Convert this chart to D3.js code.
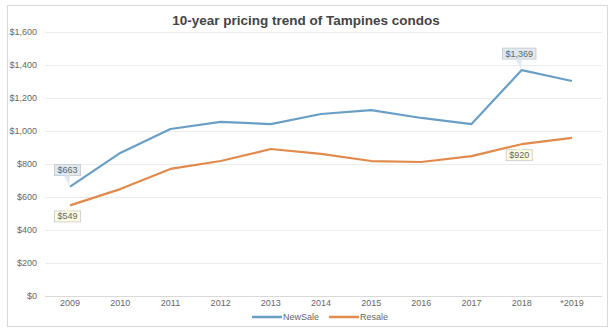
<!DOCTYPE html>
<html>
<head>
<meta charset="utf-8">
<script src="https://cdn.jsdelivr.net/npm/d3@7/dist/d3.min.js"></script>
<style>
  body { margin: 0; background: #fff; }
  svg { display: block; font-family: "Liberation Sans", Arial, sans-serif; }
</style>
</head>
<body>
<svg id="chart" width="614" height="333"></svg>
<script>
// Tampines condo prices per sq ft, 2009 – 2019
const years = ["2009", "2010", "2011", "2012", "2013", "2014", "2015", "2016", "2017", "2018", "*2019"];
const newSale = [663, 867, 1012, 1055, 1042, 1103, 1127, 1079, 1042, 1369, 1303];
const resale = [549, 648, 770, 818, 891, 861, 818, 812, 848, 920, 958];
const yTicks = [0, 200, 400, 600, 800, 1000, 1200, 1400, 1600];

// value callouts: series, year index, side
const callouts = [
  { series: "NewSale", idx: 0, side: "above" },
  { series: "Resale", idx: 0, side: "below" },
  { series: "NewSale", idx: 9, side: "above" },
  { series: "Resale", idx: 9, side: "below" }
];

const series = [
  { name: "NewSale", values: newSale, color: "#6a9fc5", fill: "#dfe7ef" },
  { name: "Resale", values: resale, color: "#e08a4b", fill: "#fbfbe2" }
];

const svg = d3.select("#chart");
const plot = { left: 45, right: 597, top: 32, bottom: 296 };

// outer frame
svg.append("rect")
  .attr("x", 7.5).attr("y", 5.5)
  .attr("width", 600).attr("height", 321)
  .attr("fill", "#fff").attr("stroke", "#d9d9d9");

svg.append("text")
  .attr("x", 306).attr("y", 25)
  .attr("text-anchor", "middle")
  .attr("font-size", 13.5).attr("font-weight", "bold")
  .attr("fill", "#444")
  .text("10-year pricing trend of Tampines condos");

const x = d3.scaleBand().domain(years).range([plot.left, plot.right]);
const cx = d => x(d) + x.bandwidth() / 2;
const y = d3.scaleLinear().domain([0, 1600]).range([plot.bottom, plot.top]);

const fmt = v => "$" + d3.format(",")(v);

// horizontal gridlines + y labels
const yAxis = d3.axisLeft(y).tickValues(yTicks)
  .tickFormat(fmt)
  .tickSize(-(plot.right - plot.left + 5))
  .tickPadding(8);
const gy = svg.append("g").attr("transform", `translate(${plot.left},0)`).call(yAxis);
gy.select(".domain").remove();
gy.selectAll(".tick line").attr("stroke", "#ececec").attr("x1", 0);
gy.selectAll(".tick").filter(d => d === 0).select("line").attr("stroke", "#d9d9d9");
gy.selectAll(".tick text").attr("fill", "#666").attr("font-size", 9)
  .attr("font-family", "Liberation Sans, Arial, sans-serif");

// x labels
const xAxis = d3.axisBottom(x).tickSize(0).tickPadding(4);
const gx = svg.append("g").attr("transform", `translate(0,${plot.bottom})`).call(xAxis);
gx.select(".domain").remove();
gx.selectAll(".tick text").attr("fill", "#666").attr("font-size", 9)
  .attr("font-family", "Liberation Sans, Arial, sans-serif");

// lines
const line = d3.line().x((d, i) => cx(years[i])).y(d => y(d));
series.forEach(s => {
  svg.append("path")
    .datum(s.values)
    .attr("fill", "none")
    .attr("stroke", s.color)
    .attr("stroke-width", 2.2)
    .attr("stroke-linejoin", "round")
    .attr("d", line);
});

// callout boxes
callouts.forEach(c => {
  const s = series.find(d => d.name === c.series);
  const v = s.values[c.idx];
  const px = cx(years[c.idx]), py = y(v);
  const label = fmt(v);
  const g = svg.append("g");
  const t = g.append("text")
    .attr("font-size", 9).attr("fill", "#666")
    .attr("text-anchor", "middle")
    .text(label);
  const tw = t.node().getComputedTextLength();
  const bw = tw + 6, bh = 11;
  const bx = px - 3 - bw / 2;
  const by = c.side === "above" ? py - 17 - bh / 2 : py + 5;
  g.insert("rect", "text")
    .attr("x", bx + 0.5).attr("y", by + 0.5)
    .attr("width", bw).attr("height", bh)
    .attr("fill", s.fill).attr("stroke", "#c8c8c8").attr("stroke-width", 0.8);
  // little pointer toward the point
  const tip = c.side === "above"
    ? [[px - 6, by + bh + 0.5], [px, by + bh + 0.5], [px - 1, py - 1]]
    : [[px - 6, by + 0.5], [px, by + 0.5], [px - 1, py + 1]];
  g.insert("path", "text")
    .attr("d", d3.line()(tip))
    .attr("fill", s.fill).attr("stroke", "none");
  t.attr("x", bx + bw / 2 + 0.5).attr("y", by + bh - 2);
});

// legend
const legend = svg.append("g").attr("transform", "translate(252,320)");
let lx = 0;
series.forEach(s => {
  legend.append("line")
    .attr("x1", lx).attr("x2", lx + 30)
    .attr("y1", -3).attr("y2", -3)
    .attr("stroke", s.color).attr("stroke-width", 2.5);
  const t = legend.append("text")
    .attr("x", lx + 31).attr("y", 0)
    .attr("font-size", 9).attr("fill", "#666")
    .text(s.name);
  lx += 31 + t.node().getComputedTextLength() + 10;
});
</script>
</body>
</html>
